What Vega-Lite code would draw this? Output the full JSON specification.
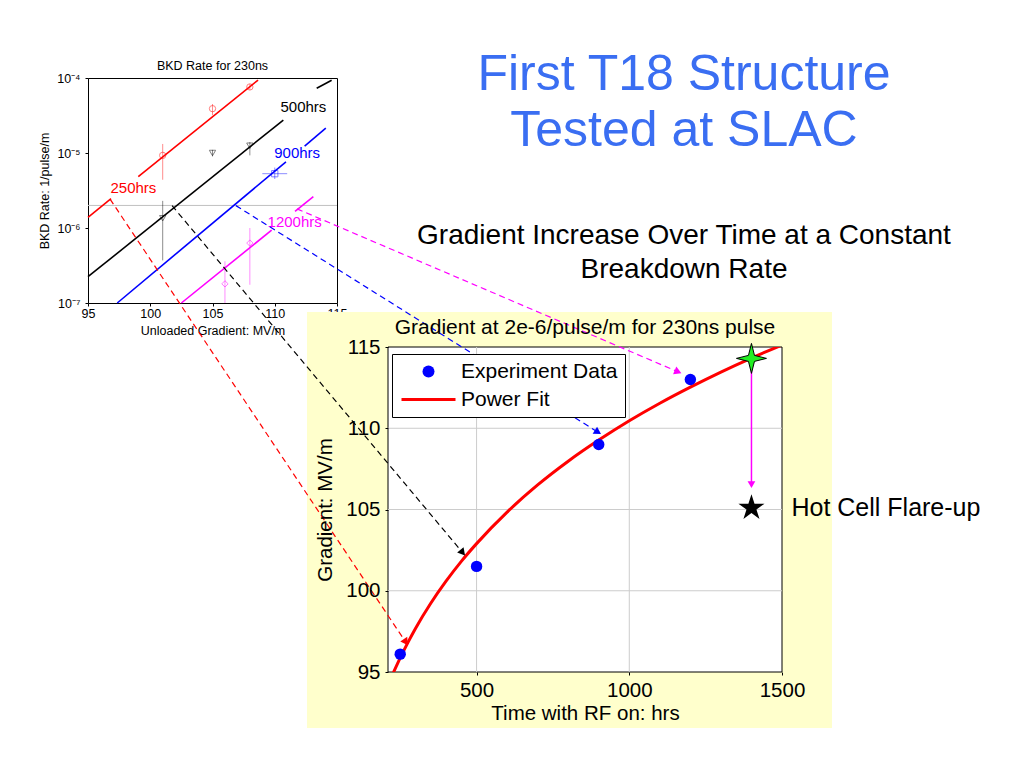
{
  "$schema": "https://vega.github.io/schema/vega-lite/v6.json",
  "background": "white",
  "padding": {"left": 38, "top": 50, "right": 10, "bottom": 10},
  "config": {
    "font": "Liberation Sans",
    "view": {"stroke": null},
    "axis": {"zindex": 1, "grid": false, "labelFont": "Liberation Sans", "titleFont": "Liberation Sans", "labelColor": "black", "titleColor": "black", "titleFontWeight": "normal", "domainColor": "black", "tickColor": "black", "labelFlush": false, "labelOverlap": false},
    "title": {"font": "Liberation Sans", "fontWeight": "normal", "color": "black"}
  },
  "datasets": {
    "bkdLines": [
      {"hours": "250hrs", "segment": "a", "gradient": 95, "rate": 1.39e-6},
      {"hours": "250hrs", "segment": "a", "gradient": 96.85, "rate": 2.46e-6},
      {"hours": "250hrs", "segment": "b", "gradient": 99.04, "rate": 4.83e-6},
      {"hours": "250hrs", "segment": "b", "gradient": 108.66, "rate": 9.4e-5},
      {"hours": "500hrs", "segment": "a", "gradient": 95, "rate": 2.24e-7},
      {"hours": "500hrs", "segment": "a", "gradient": 110.69, "rate": 2.75e-5},
      {"hours": "500hrs", "segment": "b", "gradient": 113.37, "rate": 7.3e-5},
      {"hours": "500hrs", "segment": "b", "gradient": 114.57, "rate": 9.33e-5},
      {"hours": "900hrs", "segment": "a", "gradient": 97.35, "rate": 1.0e-7},
      {"hours": "900hrs", "segment": "a", "gradient": 110.9, "rate": 7.64e-6},
      {"hours": "900hrs", "segment": "b", "gradient": 112.4, "rate": 1.236e-5},
      {"hours": "900hrs", "segment": "b", "gradient": 114.1, "rate": 2.14e-5},
      {"hours": "1200hrs", "segment": "a", "gradient": 102.5, "rate": 1.0e-7},
      {"hours": "1200hrs", "segment": "a", "gradient": 109.75, "rate": 9.36e-7},
      {"hours": "1200hrs", "segment": "b", "gradient": 111.63, "rate": 1.67e-6},
      {"hours": "1200hrs", "segment": "b", "gradient": 113.1, "rate": 2.63e-6}
    ],
    "bkdPoints": [
      {"hours": "250hrs", "gradient": 101, "rate": 9.3e-6, "rate_lo": 4.4e-6, "rate_hi": 1.32e-5},
      {"hours": "250hrs", "gradient": 105, "rate": 3.9e-5, "rate_lo": 3.2e-5, "rate_hi": 4.5e-5},
      {"hours": "250hrs", "gradient": 108, "rate": 7.6e-5, "rate_lo": 7.0e-5, "rate_hi": 8.3e-5},
      {"hours": "500hrs", "gradient": 101, "rate": 1.35e-6, "rate_lo": 3.7e-7, "rate_hi": 2.3e-6},
      {"hours": "500hrs", "gradient": 105, "rate": 1.0e-5, "rate_lo": 9.0e-6, "rate_hi": 1.1e-5},
      {"hours": "500hrs", "gradient": 108, "rate": 1.25e-5, "rate_lo": 9.3e-6, "rate_hi": 1.4e-5},
      {"hours": "900hrs", "gradient": 110, "rate": 5.3e-6, "rate_lo": 4.5e-6, "rate_hi": 6.4e-6, "grad_lo": 109, "grad_hi": 111},
      {"hours": "1200hrs", "gradient": 106, "rate": 1.8e-7, "rate_lo": 1.0e-7, "rate_hi": 3.6e-7},
      {"hours": "1200hrs", "gradient": 108, "rate": 6.3e-7, "rate_lo": 1.75e-7, "rate_hi": 1.0e-6}
    ],
    "bkdLabels": [
      {"hours": "250hrs", "gradient": 98.65, "rate": 3.4e-6},
      {"hours": "500hrs", "gradient": 112.3, "rate": 4.1e-5},
      {"hours": "900hrs", "gradient": 111.8, "rate": 1.0e-5},
      {"hours": "1200hrs", "gradient": 111.6, "rate": 1.2e-6}
    ],
    "experiment": [
      {"hours": 250, "gradient": 96.1, "series": "Experiment Data"},
      {"hours": 500, "gradient": 101.5, "series": "Experiment Data"},
      {"hours": 900, "gradient": 109.0, "series": "Experiment Data"},
      {"hours": 1200, "gradient": 113.0, "series": "Experiment Data"}
    ],
    "fit": [
      {"hours": 225, "gradient": 94.85, "series": "Power Fit"},
      {"hours": 250, "gradient": 95.87, "series": "Power Fit"},
      {"hours": 275, "gradient": 96.81, "series": "Power Fit"},
      {"hours": 300, "gradient": 97.68, "series": "Power Fit"},
      {"hours": 350, "gradient": 99.23, "series": "Power Fit"},
      {"hours": 400, "gradient": 100.59, "series": "Power Fit"},
      {"hours": 450, "gradient": 101.81, "series": "Power Fit"},
      {"hours": 500, "gradient": 102.9, "series": "Power Fit"},
      {"hours": 600, "gradient": 104.84, "series": "Power Fit"},
      {"hours": 700, "gradient": 106.51, "series": "Power Fit"},
      {"hours": 800, "gradient": 107.97, "series": "Power Fit"},
      {"hours": 900, "gradient": 109.27, "series": "Power Fit"},
      {"hours": 1000, "gradient": 110.46, "series": "Power Fit"},
      {"hours": 1100, "gradient": 111.54, "series": "Power Fit"},
      {"hours": 1200, "gradient": 112.53, "series": "Power Fit"},
      {"hours": 1300, "gradient": 113.46, "series": "Power Fit"},
      {"hours": 1400, "gradient": 114.32, "series": "Power Fit"},
      {"hours": 1500, "gradient": 115.12, "series": "Power Fit"}
    ],
    "projected": [{"hours": 1400, "gradient": 114.3}],
    "drop": [{"hours": 1400, "gradient": 114.3, "gradient_end": 106.6}],
    "flare": [{"hours": 1400, "gradient": 105.1, "label": "Hot Cell Flare-up"}],
    "links": [
      {"arrow": "250hrs", "hours": -700, "gradient": 124.1, "hours_end": 266, "gradient_end": 96.9},
      {"arrow": "500hrs", "hours": -497, "gradient": 123.7, "hours_end": 452, "gradient_end": 102.4},
      {"arrow": "900hrs", "hours": -288, "gradient": 123.7, "hours_end": 894, "gradient_end": 109.8},
      {"arrow": "1200hrs", "hours": -88, "gradient": 123.5, "hours_end": 1156, "gradient_end": 113.5}
    ]
  },
  "columns": 2,
  "spacing": {"row": 44, "column": 51},
  "bounds": "flush",
  "resolve": {"scale": {"color": "independent", "shape": "independent", "stroke": "independent"}, "legend": {"color": "independent", "shape": "independent", "stroke": "independent"}},
  "concat": [
    {
      "width": 249,
      "height": 225,
      "view": {"stroke": "black", "strokeWidth": 1},
      "title": {"text": "BKD Rate for 230ns", "fontSize": 12.5, "frame": "group", "anchor": "middle", "offset": 0},
      "layer": [
        {"data": {"values": [{"level": "2e-6"}]}, "mark": {"type": "rule", "color": "#c0c0c0", "strokeWidth": 1},
         "encoding": {"x": {"datum": 95, "type": "quantitative", "scale": {"domain": [95, 115], "nice": false, "zero": false}},
                      "x2": {"datum": 115},
                      "y": {"datum": 2e-6, "type": "quantitative", "scale": {"type": "log", "domain": [1e-7, 1e-4], "nice": false}}}},
        {"data": {"name": "bkdPoints"}, "mark": {"type": "rule", "strokeWidth": 1, "opacity": 0.45},
         "encoding": {"x": {"field": "gradient", "type": "quantitative", "scale": {"domain": [95, 115], "nice": false, "zero": false}},
                      "y": {"field": "rate_lo", "type": "quantitative", "scale": {"type": "log", "domain": [1e-7, 1e-4], "nice": false}},
                      "y2": {"field": "rate_hi"},
                      "color": {"field": "hours", "type": "nominal", "scale": {"domain": ["250hrs", "500hrs", "900hrs", "1200hrs"], "range": ["#ff0000", "#000000", "#0000ff", "#ff00ff"]}, "legend": null}}},
        {"data": {"name": "bkdPoints"}, "transform": [{"filter": "isValid(datum.grad_lo)"}], "mark": {"type": "rule", "strokeWidth": 1, "opacity": 0.45},
         "encoding": {"x": {"field": "grad_lo", "type": "quantitative", "scale": {"domain": [95, 115], "nice": false, "zero": false}},
                      "x2": {"field": "grad_hi"},
                      "y": {"field": "rate", "type": "quantitative", "scale": {"type": "log", "domain": [1e-7, 1e-4], "nice": false}},
                      "color": {"field": "hours", "type": "nominal", "scale": {"domain": ["250hrs", "500hrs", "900hrs", "1200hrs"], "range": ["#ff0000", "#000000", "#0000ff", "#ff00ff"]}, "legend": null}}},
        {"data": {"name": "bkdPoints"}, "mark": {"type": "point", "filled": false, "size": 40, "strokeWidth": 1, "opacity": 0.5},
         "encoding": {"x": {"field": "gradient", "type": "quantitative", "scale": {"domain": [95, 115], "nice": false, "zero": false}},
                      "y": {"field": "rate", "type": "quantitative", "scale": {"type": "log", "domain": [1e-7, 1e-4], "nice": false}},
                      "color": {"field": "hours", "type": "nominal", "scale": {"domain": ["250hrs", "500hrs", "900hrs", "1200hrs"], "range": ["#ff0000", "#000000", "#0000ff", "#ff00ff"]}, "legend": null},
                      "shape": {"field": "hours", "type": "nominal", "scale": {"domain": ["250hrs", "500hrs", "900hrs", "1200hrs"], "range": ["circle", "triangle-down", "square", "diamond"]}, "legend": null}}},
        {"data": {"name": "bkdLines"}, "mark": {"type": "line", "strokeWidth": 1.6},
         "encoding": {"x": {"field": "gradient", "type": "quantitative", "scale": {"domain": [95, 115], "nice": false, "zero": false},
                            "axis": {"title": "Unloaded Gradient: MV/m", "values": [95, 100, 105, 110, 115], "labelFontSize": 12.5, "titleFontSize": 12.5, "labelPadding": 1, "titlePadding": 5, "domain": false, "tickSize": 3, "zindex": 1}},
                      "y": {"field": "rate", "type": "quantitative", "scale": {"type": "log", "domain": [1e-7, 1e-4], "nice": false},
                            "axis": {"title": "BKD Rate: 1/pulse/m", "values": [1e-7, 1e-6, 1e-5, 1e-4], "labelExpr": "datum.value > 5e-5 ? '10⁻⁴' : datum.value > 5e-6 ? '10⁻⁵' : datum.value > 5e-7 ? '10⁻⁶' : '10⁻⁷'", "labelFontSize": 12.5, "titleFontSize": 12.5, "labelPadding": 5, "titlePadding": 5, "domain": false, "tickSize": 3, "zindex": 1}},
                      "color": {"field": "hours", "type": "nominal", "scale": {"domain": ["250hrs", "500hrs", "900hrs", "1200hrs"], "range": ["#ff0000", "#000000", "#0000ff", "#ff00ff"]}, "legend": null},
                      "detail": {"field": "segment", "type": "nominal"}}},
        {"data": {"name": "bkdLabels"}, "mark": {"type": "text", "fontSize": 15, "align": "center", "baseline": "middle"},
         "encoding": {"x": {"field": "gradient", "type": "quantitative", "scale": {"domain": [95, 115], "nice": false, "zero": false}},
                      "y": {"field": "rate", "type": "quantitative", "scale": {"type": "log", "domain": [1e-7, 1e-4], "nice": false}},
                      "text": {"field": "hours", "type": "nominal"},
                      "color": {"field": "hours", "type": "nominal", "scale": {"domain": ["250hrs", "500hrs", "900hrs", "1200hrs"], "range": ["#ff0000", "#000000", "#0000ff", "#ff00ff"]}, "legend": null}}}
      ]
    },
    {
      "width": 592,
      "height": 1,
      "data": {"values": []},
      "mark": "point",
      "title": {
        "text": ["First T18 Structure", "Tested at SLAC"],
        "subtitle": ["Gradient Increase Over Time at a Constant", "Breakdown Rate"],
        "orient": "bottom", "anchor": "middle", "frame": "group", "offset": -29, "baseline": "top",
        "fontSize": 50, "lineHeight": 56, "color": "#3a6ef2", "fontWeight": "normal",
        "subtitleFontSize": 28, "subtitleLineHeight": 34, "subtitleColor": "black", "subtitlePadding": 66, "subtitleFont": "Liberation Sans"
      }
    },
    {
      "width": 1,
      "height": 1,
      "data": {"values": []},
      "mark": "point"
    },
    {
      "width": 394,
      "height": 325,
      "title": {"text": "Gradient at 2e-6/pulse/m for 230ns pulse", "fontSize": 21, "frame": "group", "anchor": "middle", "offset": -139},
      "layer": [
        {"data": {"values": [{"box": "slide panel"}]}, "mark": {"type": "rect", "color": "#ffffcc"},
         "encoding": {"x": {"datum": -55.2, "type": "quantitative", "scale": {"domain": [210, 1500], "nice": false, "zero": false}},
                      "x2": {"datum": 1663.7},
                      "y": {"datum": 91.55, "type": "quantitative", "scale": {"domain": [95, 115], "nice": false, "zero": false}},
                      "y2": {"datum": 117.15}}},
        {"data": {"values": [{"box": "plot frame"}]}, "mark": {"type": "rect", "fill": "white", "stroke": "black", "strokeWidth": 1},
         "encoding": {"x": {"datum": 210, "type": "quantitative", "scale": {"domain": [210, 1500], "nice": false, "zero": false}},
                      "x2": {"datum": 1500},
                      "y": {"datum": 95, "type": "quantitative", "scale": {"domain": [95, 115], "nice": false, "zero": false}},
                      "y2": {"datum": 115}}},
        {"data": {"values": [{"hours": 500}, {"hours": 1000}]}, "mark": {"type": "rule", "color": "#cccccc", "strokeWidth": 1},
         "encoding": {"x": {"field": "hours", "type": "quantitative", "scale": {"domain": [210, 1500], "nice": false, "zero": false}},
                      "y": {"datum": 95, "type": "quantitative", "scale": {"domain": [95, 115], "nice": false, "zero": false}},
                      "y2": {"datum": 115}}},
        {"data": {"values": [{"gradient": 100}, {"gradient": 105}, {"gradient": 110}]}, "mark": {"type": "rule", "color": "#cccccc", "strokeWidth": 1},
         "encoding": {"x": {"datum": 210, "type": "quantitative", "scale": {"domain": [210, 1500], "nice": false, "zero": false}},
                      "x2": {"datum": 1500},
                      "y": {"field": "gradient", "type": "quantitative", "scale": {"domain": [95, 115], "nice": false, "zero": false}}}},
        {"data": {"name": "fit"}, "mark": {"type": "line", "strokeWidth": 3, "clip": true, "interpolate": "monotone"},
         "encoding": {"x": {"field": "hours", "type": "quantitative", "scale": {"domain": [210, 1500], "nice": false, "zero": false},
                            "axis": {"title": "Time with RF on: hrs", "values": [500, 1000, 1500], "format": "d", "labelFontSize": 20.5, "titleFontSize": 20.5, "labelPadding": 5, "titlePadding": 3, "domain": false, "tickSize": 3, "zindex": 1}},
                      "y": {"field": "gradient", "type": "quantitative", "scale": {"domain": [95, 115], "nice": false, "zero": false},
                            "axis": {"title": "Gradient: MV/m", "values": [95, 100, 105, 110, 115], "labelFontSize": 20.5, "titleFontSize": 20.5, "labelPadding": 5, "titlePadding": 10, "domain": false, "tickSize": 3, "zindex": 1}},
                      "color": {"field": "series", "type": "nominal", "scale": {"domain": ["Experiment Data", "Power Fit"], "range": ["#0000ff", "#ff0000"]},
                                "legend": {"orient": "none", "legendX": 4, "legendY": 7, "title": null, "labelFontSize": 21, "labelColor": "black", "strokeColor": "black", "fillColor": "white", "padding": 7, "rowPadding": 6, "symbolSize": 144, "symbolOffset": 19, "labelOffset": 22, "labelLimit": 300,
                                           "encode": {"symbols": {"update": {"stroke": {"signal": "datum.value === 'Power Fit' ? '#ff0000' : '#0000ff'"}, "fill": {"signal": "datum.value === 'Power Fit' ? 'transparent' : '#0000ff'"}, "strokeWidth": {"signal": "datum.value === 'Power Fit' ? 3 : 0"}, "opacity": {"value": 1}}}}}}}},
        {"data": {"name": "experiment"}, "mark": {"type": "point", "filled": true, "size": 130, "opacity": 1},
         "encoding": {"x": {"field": "hours", "type": "quantitative", "scale": {"domain": [210, 1500], "nice": false, "zero": false}},
                      "y": {"field": "gradient", "type": "quantitative", "scale": {"domain": [95, 115], "nice": false, "zero": false}},
                      "color": {"field": "series", "type": "nominal", "scale": {"domain": ["Experiment Data", "Power Fit"], "range": ["#0000ff", "#ff0000"]},
                                "legend": {"orient": "none", "legendX": 4, "legendY": 7, "title": null, "labelFontSize": 21, "labelColor": "black", "strokeColor": "black", "fillColor": "white", "padding": 7, "rowPadding": 6, "symbolSize": 144, "symbolOffset": 19, "labelOffset": 22, "labelLimit": 300,
                                           "encode": {"symbols": {"update": {"stroke": {"signal": "datum.value === 'Power Fit' ? '#ff0000' : '#0000ff'"}, "fill": {"signal": "datum.value === 'Power Fit' ? 'transparent' : '#0000ff'"}, "strokeWidth": {"signal": "datum.value === 'Power Fit' ? 3 : 0"}, "opacity": {"value": 1}}}}}},
                      "shape": {"field": "series", "type": "nominal", "scale": {"domain": ["Experiment Data", "Power Fit"], "range": ["circle", "M-4.5,0L4.5,0"]},
                                "legend": {"orient": "none", "legendX": 4, "legendY": 7, "title": null, "labelFontSize": 21, "labelColor": "black", "strokeColor": "black", "fillColor": "white", "padding": 7, "rowPadding": 6, "symbolSize": 144, "symbolOffset": 19, "labelOffset": 22, "labelLimit": 300,
                                           "encode": {"symbols": {"update": {"stroke": {"signal": "datum.value === 'Power Fit' ? '#ff0000' : '#0000ff'"}, "fill": {"signal": "datum.value === 'Power Fit' ? 'transparent' : '#0000ff'"}, "strokeWidth": {"signal": "datum.value === 'Power Fit' ? 3 : 0"}, "opacity": {"value": 1}}}}}}}},
        {"data": {"name": "drop"}, "mark": {"type": "rule", "color": "#ff00ff", "strokeWidth": 1.5},
         "encoding": {"x": {"field": "hours", "type": "quantitative", "scale": {"domain": [210, 1500], "nice": false, "zero": false}},
                      "y": {"field": "gradient", "type": "quantitative", "scale": {"domain": [95, 115], "nice": false, "zero": false}},
                      "y2": {"field": "gradient_end"}}},
        {"data": {"name": "drop"}, "mark": {"type": "point", "shape": "triangle", "filled": true, "color": "#ff00ff", "angle": 180, "size": 60, "opacity": 1},
         "encoding": {"x": {"field": "hours", "type": "quantitative", "scale": {"domain": [210, 1500], "nice": false, "zero": false}},
                      "y": {"field": "gradient_end", "type": "quantitative", "scale": {"domain": [95, 115], "nice": false, "zero": false}}}},
        {"data": {"name": "projected"}, "mark": {"type": "point", "shape": "M0,-1L0.2,-0.2L1,0L0.2,0.2L0,1L-0.2,0.2L-1,0L-0.2,-0.2Z", "filled": true, "fill": "#22ee22", "stroke": "black", "strokeWidth": 1, "size": 900, "opacity": 1},
         "encoding": {"x": {"field": "hours", "type": "quantitative", "scale": {"domain": [210, 1500], "nice": false, "zero": false}},
                      "y": {"field": "gradient", "type": "quantitative", "scale": {"domain": [95, 115], "nice": false, "zero": false}}}},
        {"data": {"name": "flare"}, "mark": {"type": "point", "shape": "M0,-1L0.2245,-0.309L0.9511,-0.309L0.3633,0.118L0.5878,0.809L0,0.382L-0.5878,0.809L-0.3633,0.118L-0.9511,-0.309L-0.2245,-0.309Z", "filled": true, "color": "black", "size": 750, "opacity": 1},
         "encoding": {"x": {"field": "hours", "type": "quantitative", "scale": {"domain": [210, 1500], "nice": false, "zero": false}},
                      "y": {"field": "gradient", "type": "quantitative", "scale": {"domain": [95, 115], "nice": false, "zero": false}}}},
        {"data": {"name": "flare"}, "mark": {"type": "text", "align": "left", "baseline": "middle", "dx": 40, "fontSize": 25, "color": "black"},
         "encoding": {"x": {"field": "hours", "type": "quantitative", "scale": {"domain": [210, 1500], "nice": false, "zero": false}},
                      "y": {"field": "gradient", "type": "quantitative", "scale": {"domain": [95, 115], "nice": false, "zero": false}},
                      "text": {"field": "label", "type": "nominal"}}},
        {"data": {"name": "links"}, "mark": {"type": "rule", "strokeWidth": 1.2, "strokeDash": [6, 4]},
         "encoding": {"x": {"field": "hours", "type": "quantitative", "scale": {"domain": [210, 1500], "nice": false, "zero": false}},
                      "y": {"field": "gradient", "type": "quantitative", "scale": {"domain": [95, 115], "nice": false, "zero": false}},
                      "x2": {"field": "hours_end"}, "y2": {"field": "gradient_end"},
                      "stroke": {"field": "arrow", "type": "nominal", "scale": {"domain": ["250hrs", "500hrs", "900hrs", "1200hrs"], "range": ["#ff0000", "#000000", "#0000ff", "#ff00ff"]}, "legend": null}}},
        {"data": {"name": "links"}, "transform": [{"filter": "datum.arrow === '250hrs'"}], "mark": {"type": "point", "shape": "triangle", "filled": true, "color": "#ff0000", "angle": 146, "size": 70, "opacity": 1},
         "encoding": {"x": {"field": "hours_end", "type": "quantitative", "scale": {"domain": [210, 1500], "nice": false, "zero": false}},
                      "y": {"field": "gradient_end", "type": "quantitative", "scale": {"domain": [95, 115], "nice": false, "zero": false}}}},
        {"data": {"name": "links"}, "transform": [{"filter": "datum.arrow === '500hrs'"}], "mark": {"type": "point", "shape": "triangle", "filled": true, "color": "#000000", "angle": 140, "size": 70, "opacity": 1},
         "encoding": {"x": {"field": "hours_end", "type": "quantitative", "scale": {"domain": [210, 1500], "nice": false, "zero": false}},
                      "y": {"field": "gradient_end", "type": "quantitative", "scale": {"domain": [95, 115], "nice": false, "zero": false}}}},
        {"data": {"name": "links"}, "transform": [{"filter": "datum.arrow === '900hrs'"}], "mark": {"type": "point", "shape": "triangle", "filled": true, "color": "#0000ff", "angle": 122, "size": 70, "opacity": 1},
         "encoding": {"x": {"field": "hours_end", "type": "quantitative", "scale": {"domain": [210, 1500], "nice": false, "zero": false}},
                      "y": {"field": "gradient_end", "type": "quantitative", "scale": {"domain": [95, 115], "nice": false, "zero": false}}}},
        {"data": {"name": "links"}, "transform": [{"filter": "datum.arrow === '1200hrs'"}], "mark": {"type": "point", "shape": "triangle", "filled": true, "color": "#ff00ff", "angle": 113, "size": 70, "opacity": 1},
         "encoding": {"x": {"field": "hours_end", "type": "quantitative", "scale": {"domain": [210, 1500], "nice": false, "zero": false}},
                      "y": {"field": "gradient_end", "type": "quantitative", "scale": {"domain": [95, 115], "nice": false, "zero": false}}}}
      ]
    }
  ]
}
